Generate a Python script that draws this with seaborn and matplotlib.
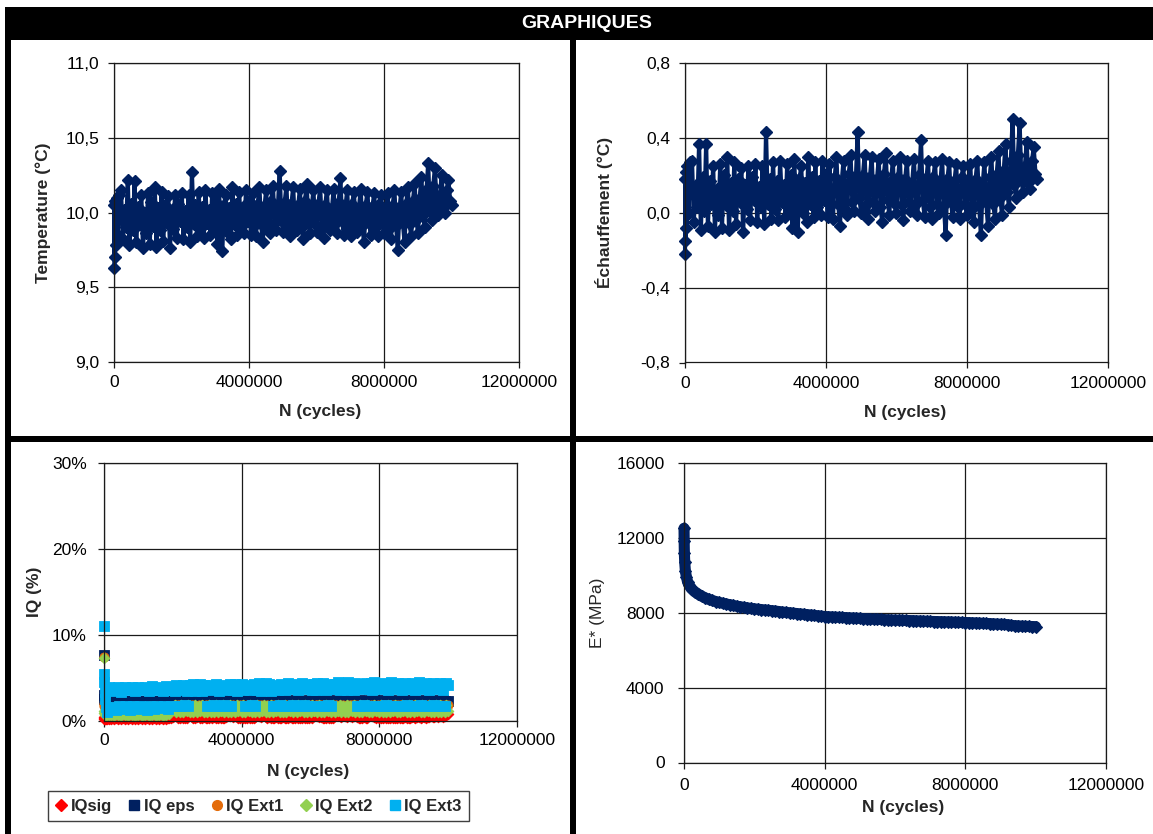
import numpy as np
import pandas as pd
import matplotlib.pyplot as plt
from matplotlib.patches import Rectangle
from matplotlib.lines import Line2D
import seaborn as sns

# N at each thermal / IQ measurement, in thousands of cycles
n_kcycles_fine = [1, 5, 10, 20, 40, 70, 100, 150,
                  200, 250, 300, 350, 400, 450, 500, 550, 600, 650,
                  700, 750, 800, 850, 900, 950, 1000, 1050, 1100, 1150,
                  1200, 1250, 1300, 1350, 1400, 1450, 1500, 1550, 1600, 1650,
                  1700, 1750, 1800, 1850, 1900, 1950, 2000, 2050, 2100, 2150,
                  2200, 2250, 2300, 2350, 2400, 2450, 2500, 2550, 2600, 2650,
                  2700, 2750, 2800, 2850, 2900, 2950, 3000, 3050, 3100, 3150,
                  3200, 3250, 3300, 3350, 3400, 3450, 3500, 3550, 3600, 3650,
                  3700, 3750, 3800, 3850, 3900, 3950, 4000, 4050, 4100, 4150,
                  4200, 4250, 4300, 4350, 4400, 4450, 4500, 4550, 4600, 4650,
                  4700, 4750, 4800, 4850, 4900, 4950, 5000, 5050, 5100, 5150,
                  5200, 5250, 5300, 5350, 5400, 5450, 5500, 5550, 5600, 5650,
                  5700, 5750, 5800, 5850, 5900, 5950, 6000, 6050, 6100, 6150,
                  6200, 6250, 6300, 6350, 6400, 6450, 6500, 6550, 6600, 6650,
                  6700, 6750, 6800, 6850, 6900, 6950, 7000, 7050, 7100, 7150,
                  7200, 7250, 7300, 7350, 7400, 7450, 7500, 7550, 7600, 7650,
                  7700, 7750, 7800, 7850, 7900, 7950, 8000, 8050, 8100, 8150,
                  8200, 8250, 8300, 8350, 8400, 8450, 8500, 8550, 8600, 8650,
                  8700, 8750, 8800, 8850, 8900, 8950, 9000, 9050, 9100, 9150,
                  9200, 9250, 9300, 9350, 9400, 9450, 9500, 9550, 9600, 9650,
                  9700, 9750, 9800, 9850, 9900, 9950, 10000]

# N at each modulus measurement, in thousands of cycles
n_kcycles = [1, 5, 10, 20, 40, 70, 100, 150,
             200, 300, 400, 500, 600, 700, 800, 900, 1000,
             1100, 1200, 1300, 1400, 1500, 1600, 1700, 1800, 1900, 2000,
             2100, 2200, 2300, 2400, 2500, 2600, 2700, 2800, 2900, 3000,
             3100, 3200, 3300, 3400, 3500, 3600, 3700, 3800, 3900, 4000,
             4100, 4200, 4300, 4400, 4500, 4600, 4700, 4800, 4900, 5000,
             5100, 5200, 5300, 5400, 5500, 5600, 5700, 5800, 5900, 6000,
             6100, 6200, 6300, 6400, 6500, 6600, 6700, 6800, 6900, 7000,
             7100, 7200, 7300, 7400, 7500, 7600, 7700, 7800, 7900, 8000,
             8100, 8200, 8300, 8400, 8500, 8600, 8700, 8800, 8900, 9000,
             9100, 9200, 9300, 9400, 9500, 9600, 9700, 9800, 9900, 10000]

# temperature (°C)
temperature = [9.63, 10.05, 9.70, 10.08, 9.78, 10.10, 9.85, 10.12,
               10.15, 9.82, 10.02, 9.90, 10.22, 9.78, 10.06, 9.88, 10.21, 9.80,
               10.04, 9.92, 10.12, 9.76, 10.00, 9.86, 10.13, 9.79, 10.07, 9.91,
               10.17, 9.77, 10.03, 9.88, 10.14, 9.81, 10.05, 9.93, 10.11, 9.76,
               10.02, 9.89, 10.12, 9.83, 10.06, 9.94, 10.13, 9.82, 10.01, 9.90,
               10.12, 9.80, 10.27, 9.92, 10.05, 9.84, 10.14, 9.89, 10.04, 9.83,
               10.15, 9.93, 10.02, 9.85, 10.13, 9.88, 10.07, 9.79, 10.16, 9.90,
               9.74, 10.05, 10.12, 9.87, 10.03, 9.82, 10.17, 9.92, 10.06, 9.85,
               10.14, 9.90, 10.04, 9.86, 10.15, 9.94, 10.08, 9.85, 10.13, 9.91,
               9.84, 10.06, 10.17, 9.92, 9.80, 10.04, 10.15, 9.89, 9.86, 10.08,
               10.18, 9.93, 9.88, 10.05, 10.28, 9.95, 9.87, 10.07, 10.18, 9.91,
               9.84, 10.06, 10.17, 9.93, 9.88, 10.05, 10.16, 9.90, 9.82, 10.08,
               10.19, 9.94, 9.86, 10.04, 10.15, 9.92, 9.87, 10.06, 10.17, 9.91,
               9.83, 10.05, 10.15, 9.93, 9.88, 10.03, 10.16, 9.92, 9.86, 10.07,
               10.23, 9.94, 9.85, 10.04, 10.15, 9.90, 9.84, 10.06, 10.14, 9.92,
               9.87, 10.03, 10.16, 9.91, 9.80, 10.05, 10.14, 9.93, 9.85, 10.04,
               10.13, 9.90, 9.84, 10.06, 10.12, 9.92, 9.86, 10.03, 10.13, 9.89,
               9.82, 10.05, 10.15, 9.91, 9.75, 10.02, 10.14, 9.93, 9.80, 10.06,
               10.17, 9.92, 9.84, 10.08, 10.20, 9.95, 9.86, 10.10, 10.24, 9.98,
               9.90, 10.15, 10.33, 10.02, 9.95, 10.18, 10.30, 10.05, 9.98, 10.12,
               10.25, 10.03, 10.00, 10.15, 10.22, 10.08, 10.05]

# self-heating (°C)
heating = [-0.22, 0.18, -0.15, 0.22, -0.08, 0.25, 0.00, 0.27,
           0.28, -0.05, 0.15, 0.03, 0.37, -0.09, 0.19, 0.01, 0.37, -0.07,
           0.17, 0.05, 0.25, -0.10, 0.13, -0.01, 0.26, -0.08, 0.20, 0.04,
           0.30, -0.09, 0.16, 0.01, 0.27, -0.06, 0.18, 0.06, 0.24, -0.10,
           0.15, 0.02, 0.25, -0.04, 0.19, 0.07, 0.26, -0.05, 0.14, 0.03,
           0.25, -0.06, 0.43, 0.05, 0.18, -0.03, 0.27, 0.02, 0.17, -0.04,
           0.28, 0.06, 0.15, -0.02, 0.26, 0.01, 0.20, -0.08, 0.29, 0.03,
           -0.10, 0.18, 0.25, 0.00, 0.16, -0.05, 0.30, 0.05, 0.19, -0.02,
           0.27, 0.03, 0.17, -0.01, 0.28, 0.07, 0.21, -0.02, 0.26, 0.04,
           -0.03, 0.19, 0.30, 0.05, -0.07, 0.17, 0.28, 0.02, -0.01, 0.21,
           0.31, 0.06, 0.01, 0.18, 0.43, 0.08, 0.00, 0.20, 0.31, 0.04,
           -0.03, 0.19, 0.30, 0.06, 0.01, 0.18, 0.29, 0.03, -0.05, 0.21,
           0.32, 0.07, -0.01, 0.17, 0.28, 0.05, 0.00, 0.19, 0.30, 0.04,
           -0.04, 0.18, 0.28, 0.06, 0.01, 0.16, 0.29, 0.05, -0.01, 0.20,
           0.39, 0.07, -0.02, 0.17, 0.28, 0.03, -0.03, 0.19, 0.27, 0.05,
           0.00, 0.16, 0.29, 0.04, -0.12, 0.18, 0.27, 0.06, -0.02, 0.17,
           0.26, 0.03, -0.03, 0.19, 0.25, 0.05, -0.01, 0.16, 0.26, 0.02,
           -0.05, 0.18, 0.28, 0.04, -0.12, 0.15, 0.27, 0.06, -0.07, 0.19,
           0.30, 0.05, -0.03, 0.21, 0.33, 0.08, -0.01, 0.23, 0.37, 0.11,
           0.03, 0.28, 0.50, 0.15, 0.08, 0.31, 0.48, 0.18, 0.11, 0.25,
           0.38, 0.16, 0.13, 0.28, 0.35, 0.21, 0.18]

# complex modulus E* (MPa)
e_star = [12500, 11800, 11200, 10700, 10200, 9900, 9650, 9450,
          9300, 9120, 8990, 8880, 8790, 8710, 8650, 8590, 8540,
          8500, 8460, 8420, 8380, 8340, 8310, 8280, 8250, 8225, 8200,
          8180, 8160, 8140, 8120, 8100, 8080, 8055, 8030, 8010, 7990,
          7970, 7950, 7930, 7910, 7890, 7870, 7850, 7830, 7810, 7790,
          7780, 7770, 7760, 7750, 7740, 7730, 7720, 7710, 7700, 7690,
          7680, 7670, 7660, 7650, 7640, 7635, 7625, 7615, 7605, 7600,
          7595, 7590, 7580, 7575, 7570, 7560, 7555, 7545, 7540, 7530,
          7525, 7520, 7515, 7510, 7505, 7500, 7490, 7485, 7475, 7470,
          7465, 7455, 7450, 7440, 7430, 7420, 7410, 7400, 7390, 7380,
          7370, 7355, 7320, 7300, 7290, 7280, 7270, 7265, 7255, 7250]

# quality indicators (%)
iq_sig = [0.5, 0.3, 0.2, 0.2, 0.2, 0.2, 0.2, 0.2,
          0.2, 0.35, 0.2, 0.3, 0.2, 0.35, 0.25, 0.3, 0.2, 0.3,
          0.25, 0.35, 0.2, 0.3, 0.25, 0.35, 0.2, 0.3, 0.25, 0.3,
          0.2, 0.35, 0.25, 0.3, 0.2, 0.35, 0.25, 0.3, 0.2, 0.3,
          0.25, 0.35, 0.2, 0.3, 0.3, 0.4, 0.5, 0.8, 0.6, 0.4,
          0.3, 0.45, 0.3, 0.35, 0.4, 0.6, 0.7, 0.5, 0.4, 0.35,
          0.5, 0.6, 0.4, 0.35, 0.45, 0.4, 0.35, 0.4, 0.45, 0.4,
          0.5, 0.4, 0.35, 0.45, 0.4, 0.35, 0.4, 0.45, 0.7, 0.6,
          0.7, 0.5, 0.6, 0.5, 0.4, 0.35, 0.45, 0.4, 0.35, 0.4,
          0.45, 0.4, 0.35, 0.4, 0.5, 0.7, 0.6, 0.5, 0.6, 0.7,
          0.5, 0.4, 0.45, 0.4, 0.35, 0.4, 0.45, 0.4, 0.35, 0.4,
          0.45, 0.4, 0.35, 0.4, 0.45, 0.4, 0.35, 0.4, 0.45, 0.4,
          0.35, 0.4, 0.45, 0.4, 0.35, 0.4, 0.45, 0.4, 0.6, 0.7,
          0.6, 0.5, 0.45, 0.4, 0.35, 0.4, 0.45, 0.4, 0.35, 0.4,
          0.6, 0.8, 0.7, 0.6, 0.5, 0.7, 0.6, 0.5, 0.7, 0.6,
          0.5, 0.6, 0.7, 0.45, 0.4, 0.35, 0.4, 0.45, 0.4, 0.35,
          0.6, 0.7, 0.6, 0.5, 0.4, 0.45, 0.4, 0.35, 0.4, 0.45,
          0.4, 0.35, 0.4, 0.45, 0.4, 0.35, 0.4, 0.45, 0.4, 0.35,
          0.4, 0.45, 0.4, 0.35, 0.4, 0.5, 0.45, 0.4, 0.5, 0.45,
          0.4, 0.5, 0.45, 0.4, 0.5, 0.45, 0.6, 0.5, 0.45, 0.55,
          0.5, 0.6, 0.55, 0.5, 0.6, 0.7, 0.8]

iq_eps = [7.7, 3.0, 2.5, 2.3, 2.2, 2.2, 2.2, 2.2,
          2.2, 2.3, 2.2, 2.3, 2.2, 2.3, 2.2, 2.3, 2.2, 2.3,
          2.2, 2.3, 2.2, 2.3, 2.2, 2.3, 2.2, 2.3, 2.2, 2.3,
          2.2, 2.3, 2.2, 2.3, 2.2, 2.3, 2.2, 2.3, 2.2, 2.3,
          2.2, 2.3, 2.2, 2.3, 2.2, 2.3, 2.2, 2.3, 2.2, 2.3,
          2.3, 2.2, 2.3, 2.4, 2.3, 2.2, 2.3, 2.4, 2.3, 2.2,
          2.3, 2.2, 2.3, 2.2, 2.3, 2.4, 2.3, 2.2, 2.3, 2.2,
          2.3, 2.4, 2.3, 2.2, 2.3, 2.2, 2.3, 2.4, 2.3, 2.2,
          2.3, 2.2, 2.3, 2.4, 2.3, 2.2, 2.3, 2.2, 2.3, 2.4,
          2.3, 2.2, 2.3, 2.2, 2.3, 2.4, 2.3, 2.2, 2.3, 2.2,
          2.3, 2.4, 2.3, 2.2, 2.3, 2.2, 2.3, 2.4, 2.3, 2.2,
          2.3, 2.2, 2.3, 2.4, 2.3, 2.2, 2.3, 2.2, 2.3, 2.4,
          2.3, 2.2, 2.3, 2.2, 2.3, 2.4, 2.3, 2.2, 2.3, 2.2,
          2.3, 2.4, 2.3, 2.2, 2.3, 2.2, 2.3, 2.4, 2.3, 2.2,
          2.3, 2.2, 2.3, 2.4, 2.3, 2.2, 2.3, 2.2, 2.3, 2.4,
          2.3, 2.2, 2.3, 2.2, 2.3, 2.4, 2.3, 2.2, 2.3, 2.2,
          2.3, 2.4, 2.3, 2.2, 2.3, 2.2, 2.3, 2.4, 2.3, 2.2,
          2.3, 2.2, 2.3, 2.4, 2.3, 2.2, 2.3, 2.2, 2.3, 2.4,
          2.3, 2.2, 2.3, 2.2, 2.3, 2.4, 2.3, 2.2, 2.3, 2.2,
          2.3, 2.4, 2.3, 2.2, 2.3, 2.2, 2.3, 2.4, 2.3, 2.2,
          2.3, 2.2, 2.3, 2.4, 2.3, 2.2, 2.3]

iq_ext1 = [7.4, 2.0, 1.8, 1.7, 1.6, 1.6, 1.5, 1.5,
           1.5, 1.6, 1.5, 1.7, 1.6, 1.5, 1.7, 1.6, 1.5, 1.6,
           1.5, 1.6, 1.5, 1.7, 1.6, 1.5, 1.7, 1.6, 1.5, 1.6,
           1.5, 1.6, 1.5, 1.7, 1.6, 1.5, 1.7, 1.6, 1.5, 1.6,
           1.5, 1.6, 1.5, 1.7, 1.6, 1.7, 1.8, 1.9, 1.8, 1.9,
           1.9, 1.8, 1.9, 1.7, 1.9, 1.8, 1.9, 1.8, 1.9, 1.7,
           1.8, 1.9, 1.7, 1.9, 1.8, 1.9, 1.8, 1.9, 1.7, 1.9,
           1.9, 1.8, 1.9, 1.7, 1.9, 1.8, 1.9, 1.8, 1.9, 1.7,
           1.8, 1.9, 1.7, 1.9, 1.8, 1.9, 1.8, 1.9, 1.7, 1.9,
           1.9, 1.8, 1.9, 1.7, 1.9, 1.8, 1.9, 1.8, 1.9, 1.7,
           1.8, 1.9, 1.7, 1.9, 1.8, 1.9, 1.8, 1.9, 1.7, 1.9,
           1.9, 1.8, 1.9, 1.7, 1.9, 1.8, 1.9, 1.8, 1.9, 1.7,
           1.8, 1.9, 1.7, 1.9, 1.8, 1.9, 1.8, 1.9, 1.7, 1.9,
           1.9, 1.8, 1.9, 1.7, 1.9, 1.8, 1.9, 1.8, 1.9, 1.7,
           1.8, 1.9, 1.7, 1.9, 1.8, 1.9, 1.8, 1.9, 1.7, 1.9,
           1.9, 1.8, 1.9, 1.7, 1.9, 1.8, 1.9, 1.8, 1.9, 1.7,
           1.8, 1.9, 1.7, 1.9, 1.8, 1.9, 1.8, 1.9, 1.7, 1.9,
           1.9, 1.8, 1.9, 1.7, 1.9, 1.8, 1.9, 1.8, 1.9, 1.7,
           1.8, 1.9, 1.7, 1.9, 1.8, 1.9, 1.8, 1.9, 1.7, 1.9,
           1.9, 1.8, 1.9, 1.7, 1.9, 1.8, 1.9, 1.8, 1.9, 1.7,
           1.9, 1.8, 1.9, 1.7, 1.9, 1.8, 1.9]

iq_ext2 = [7.3, 1.2, 0.9, 0.8, 0.7, 0.7, 0.7, 0.7,
           0.7, 1.1, 0.6, 1.2, 0.7, 1.1, 0.6, 1.2, 0.7, 1.1,
           0.6, 1.2, 0.7, 1.1, 0.6, 1.2, 0.7, 1.1, 0.6, 1.2,
           0.7, 1.1, 0.6, 1.2, 0.7, 1.1, 0.6, 1.2, 0.7, 1.1,
           0.6, 1.2, 0.7, 1.1, 0.8, 1.3, 1.6, 1.9, 1.0, 1.8,
           1.1, 1.9, 1.0, 1.8, 1.2, 1.9, 1.0, 1.8, 1.1, 1.9,
           1.0, 1.8, 1.2, 1.9, 1.0, 1.8, 1.1, 1.9, 1.0, 1.8,
           1.1, 1.9, 1.0, 1.8, 1.2, 1.9, 1.0, 1.8, 1.1, 1.9,
           1.0, 1.8, 1.1, 1.9, 1.2, 1.8, 1.0, 1.9, 1.1, 1.8,
           1.2, 1.9, 1.0, 1.8, 1.1, 1.9, 1.0, 1.8, 1.2, 1.9,
           1.0, 1.8, 1.1, 1.9, 1.0, 1.8, 1.2, 1.9, 1.1, 1.8,
           1.0, 1.9, 1.1, 1.8, 1.2, 1.9, 1.0, 1.8, 1.1, 1.9,
           1.2, 1.8, 1.0, 1.9, 1.1, 1.8, 1.0, 1.9, 1.2, 1.8,
           1.1, 1.9, 1.0, 1.8, 1.1, 1.9, 1.2, 1.8, 1.0, 1.9,
           1.1, 1.8, 1.2, 1.9, 1.0, 1.8, 1.1, 1.9, 1.0, 1.8,
           1.2, 1.9, 1.1, 1.8, 1.0, 1.9, 1.1, 1.8, 1.2, 1.9,
           1.0, 1.8, 1.1, 1.9, 1.2, 1.8, 1.0, 1.9, 1.1, 1.8,
           1.1, 1.9, 1.0, 1.8, 1.2, 1.9, 1.1, 1.8, 1.0, 1.9,
           1.2, 1.8, 1.1, 1.9, 1.0, 1.8, 1.1, 1.9, 1.2, 1.8,
           1.0, 1.9, 1.1, 1.8, 1.2, 1.9, 1.0, 1.8, 1.1, 1.9,
           1.1, 1.9, 1.0, 1.8, 1.1, 1.9, 1.2]

iq_ext3 = [11.0, 5.5, 4.5, 3.4, 2.5, 1.6, 1.0, 3.9,
           3.8, 1.6, 3.5, 1.3, 4.0, 1.8, 3.4, 1.4, 3.9, 1.7,
           3.6, 1.3, 4.0, 1.8, 3.5, 1.4, 4.0, 1.7, 3.6, 1.5,
           3.9, 1.3, 3.5, 1.8, 4.1, 1.4, 3.6, 1.7, 4.0, 1.5,
           3.5, 1.8, 4.1, 1.4, 3.6, 1.7, 4.0, 3.5, 4.2, 1.8,
           3.6, 1.7, 4.2, 1.9, 3.5, 1.8, 4.2, 3.6, 4.3, 3.5,
           4.2, 3.6, 4.3, 3.5, 4.2, 3.7, 1.8, 4.2, 1.7, 3.6,
           1.9, 4.3, 1.8, 3.5, 1.7, 4.2, 1.9, 3.6, 1.8, 4.3,
           1.7, 3.6, 4.3, 3.5, 4.2, 3.7, 4.3, 3.6, 1.8, 4.2,
           1.7, 3.6, 1.9, 4.3, 1.8, 3.6, 4.4, 3.5, 4.3, 3.7,
           4.4, 3.6, 4.3, 3.5, 1.8, 4.2, 1.7, 3.6, 1.9, 4.3,
           1.8, 3.6, 1.7, 4.4, 1.8, 3.7, 1.9, 4.3, 1.7, 3.6,
           1.8, 4.4, 1.9, 3.7, 1.7, 4.3, 1.8, 3.6, 4.3, 3.6,
           4.4, 3.7, 1.8, 4.4, 1.7, 3.6, 1.9, 4.3, 1.8, 3.7,
           4.3, 3.7, 4.5, 3.6, 4.3, 3.7, 4.4, 3.6, 4.5, 3.7,
           4.3, 3.6, 4.4, 1.8, 4.3, 1.7, 3.7, 1.9, 4.4, 1.8,
           3.7, 4.4, 3.6, 4.5, 1.8, 4.3, 1.7, 3.7, 1.8, 4.4,
           1.9, 3.6, 1.7, 4.5, 1.8, 3.7, 1.8, 4.4, 1.7, 3.6,
           1.8, 4.4, 1.9, 3.7, 1.8, 4.4, 1.7, 3.6, 1.8, 4.5,
           1.9, 3.7, 1.8, 4.4, 1.7, 3.6, 1.8, 4.4, 1.9, 3.7,
           1.8, 4.4, 1.7, 3.6, 1.8, 4.4, 4.2]

iq_names = ["IQsig", "IQ eps", "IQ Ext1", "IQ Ext2", "IQ Ext3"]
iq_colors = ["#ff0000", "#002060", "#e46c0a", "#92d050", "#00b0f0"]
iq_markers = ["D", "s", "o", "D", "s"]

x_ticks = [0, 4000000, 8000000, 12000000]
x_labels = ["0", "4000000", "8000000", "12000000"]
temp_ticks = [9.0, 9.5, 10.0, 10.5, 11.0]
temp_labels = ["9,0", "9,5", "10,0", "10,5", "11,0"]
heat_ticks = [-0.8, -0.4, 0.0, 0.4, 0.8]
heat_labels = ["-0,8", "-0,4", "0,0", "0,4", "0,8"]
iq_ticks = [0, 10, 20, 30]
iq_labels = ["0%", "10%", "20%", "30%"]
e_ticks = [0, 4000, 8000, 12000, 16000]

cycles_fine = np.array(n_kcycles_fine) * 1000
cycles = np.array(n_kcycles) * 1000
navy = "#002060"

sns.set_style("white")
plt.rcParams["font.family"] = ["Liberation Sans", "DejaVu Sans"]

W, H = 1153, 834
fig = plt.figure(figsize=(W / 100, H / 100), dpi=100)


def add_box(left, top, right, bottom):
    return fig.add_axes([left / W, 1 - bottom / H, (right - left) / W, (bottom - top) / H])


def style_axis(ax, yticks, ylabels, ypad, xpad):
    ax.set_xlim(0, 12000000)
    ax.set_xticks(x_ticks)
    ax.set_xticklabels(x_labels)
    ax.set_ylim(yticks[0], yticks[-1])
    ax.set_yticks(yticks)
    ax.set_yticklabels(ylabels)
    ax.grid(True, color="#1a1a1a", linewidth=0.9)
    ax.set_axisbelow(True)
    for sp in ax.spines.values():
        sp.set_visible(True)
        sp.set_color("#1a1a1a")
        sp.set_linewidth(0.9)
    ax.tick_params(axis="both", direction="out", length=4, width=0.9,
                   color="#1a1a1a", labelsize=12.5, labelcolor="black")
    ax.tick_params(axis="y", pad=ypad, left=True)
    ax.tick_params(axis="x", pad=xpad, bottom=True)


# temperature
ax_t = add_box(114.3, 63.3, 519.3, 361.7)
sns.lineplot(x=cycles_fine, y=temperature, ax=ax_t, color=navy, linewidth=3,
             marker="D", markersize=6.5, markeredgecolor=navy, markeredgewidth=1,
             clip_on=False, legend=False)
style_axis(ax_t, temp_ticks, temp_labels, 6.5, 5.5)
ax_t.set_xlabel("N (cycles)", fontsize=12.5, fontweight="bold")
ax_t.set_ylabel("Temperature (°C)", fontsize=12.5, fontweight="bold")
ax_t.xaxis.set_label_coords(0.508, -0.142)
ax_t.yaxis.set_label_coords(-0.156, 0.5)

# heating
ax_h = add_box(685, 63.3, 1107.7, 362.5)
sns.lineplot(x=cycles_fine, y=heating, ax=ax_h, color=navy, linewidth=3,
             marker="D", markersize=6.5, markeredgecolor=navy, markeredgewidth=1,
             clip_on=False, legend=False)
style_axis(ax_h, heat_ticks, heat_labels, 6.5, 5.5)
ax_h.set_xlabel("N (cycles)", fontsize=12.5, fontweight="bold")
ax_h.set_ylabel("Échauffement (°C)", fontsize=12.5, fontweight="bold")
ax_h.xaxis.set_label_coords(0.52, -0.142)
ax_h.yaxis.set_label_coords(-0.170, 0.5)

# quality indicators
ax_iq = add_box(104, 462.7, 517, 721)
iq_values = [iq_sig, iq_eps, iq_ext1, iq_ext2, iq_ext3]
for name, vals, col, mk in zip(iq_names, iq_values, iq_colors, iq_markers):
    size = 44 if mk == "s" else (30 if mk == "D" else 44)
    sns.scatterplot(x=cycles_fine, y=vals, ax=ax_iq, color=col, marker=mk, s=size,
                    edgecolor=col, linewidth=0.6, clip_on=False, legend=False)
style_axis(ax_iq, iq_ticks, iq_labels, 8.5, 4.5)
ax_iq.set_xlabel("N (cycles)", fontsize=12.5, fontweight="bold")
ax_iq.set_ylabel("IQ (%)", fontsize=12.5, fontweight="bold")
ax_iq.xaxis.set_label_coords(0.494, -0.166)
ax_iq.yaxis.set_label_coords(-0.150, 0.5)

# modulus
ax_e = add_box(684, 462.7, 1106, 762.5)
sns.lineplot(x=cycles, y=e_star, ax=ax_e, color=navy, linewidth=8,
             marker="D", markersize=6, markeredgecolor=navy, markeredgewidth=0.8,
             clip_on=False, legend=False)
style_axis(ax_e, e_ticks, [str(v) for v in e_ticks], 10, 7)
ax_e.set_xlabel("N (cycles)", fontsize=12.5, fontweight="bold")
ax_e.set_ylabel("E* (MPa)", fontsize=12.5)
ax_e.xaxis.set_label_coords(0.519, -0.125)
ax_e.yaxis.set_label_coords(-0.187, 0.5)

# legend of the IQ chart
handles = [Line2D([], [], linestyle="none", marker=mk, color=col, markersize=7 if mk != "D" else 6)
           for col, mk in zip(iq_colors, iq_markers)]
leg = fig.legend(handles, iq_names, loc="lower left",
                 bbox_to_anchor=(48 / W, 1 - 821 / H, 421 / W, 32 / H),
                 mode="expand", ncol=5, fancybox=False, edgecolor="#404040",
                 prop={"weight": "bold", "size": 12}, handlelength=0.7,
                 handletextpad=0.2, borderaxespad=0, borderpad=0.45, framealpha=1)
leg.get_frame().set_linewidth(1.0)


# black frame of the report sheet
def black_rect(left, top, right, bottom):
    fig.add_artist(Rectangle((left / W, 1 - bottom / H), (right - left) / W, (bottom - top) / H,
                             transform=fig.transFigure, facecolor="black", edgecolor="none"))


black_rect(5, 7, 1153, 40)
black_rect(5, 7, 10.5, 834)
black_rect(570, 40, 575.5, 834)
black_rect(5, 436, 1153, 441.5)
fig.text(587 / W, 1 - 24 / H, "GRAPHIQUES", color="white", fontsize=14,
         fontweight="bold", ha="center", va="center")

fig.savefig("out.png", dpi=100)
